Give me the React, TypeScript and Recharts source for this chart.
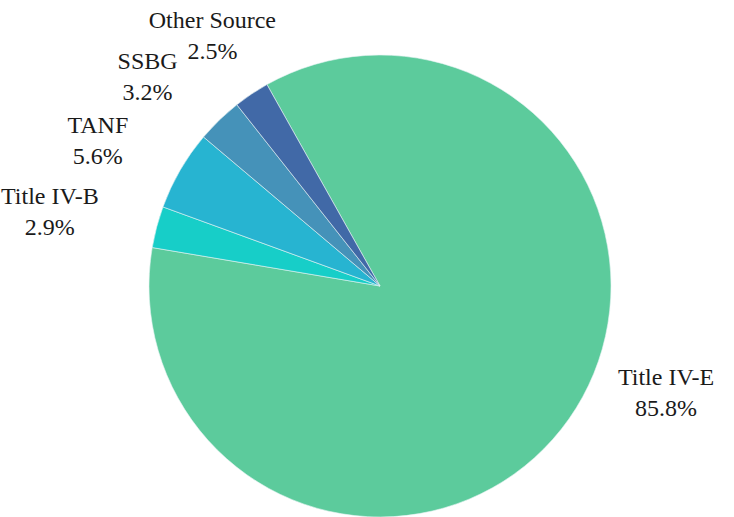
import React from 'react';
import { PieChart, Pie, Cell } from 'recharts';

const SOURCES = ['Title IV-E', 'Title IV-B', 'TANF', 'SSBG', 'Other Source'];
const SHARES = [85.8, 2.9, 5.6, 3.2, 2.5];
const COLORS = ['#5ccb9c', '#17cec8', '#27b4d1', '#4592b9', '#4169a7'];

const data = SOURCES.map((name, i) => ({ name, value: SHARES[i] }));

const WIDTH = 734;
const HEIGHT = 517;
const FONT = 24;
const FONT_FAMILY = "'Liberation Serif', serif";
const LINE = 31;
const RAD = Math.PI / 180;

let ctx: CanvasRenderingContext2D | null = null;
function textWidth(s: string) {
  if (!ctx) ctx = document.createElement('canvas').getContext('2d');
  if (!ctx) return s.length * FONT * 0.5;
  ctx.font = `${FONT}px ${FONT_FAMILY}`;
  return ctx.measureText(s).width;
}

function renderLabel(props: any) {
  const { cx, cy, midAngle, outerRadius, name, value } = props;
  const dx = Math.cos(midAngle * RAD);
  const dy = -Math.sin(midAngle * RAD);
  const text = `${Number(value).toFixed(1)}%`;
  const w = Math.max(textWidth(name), textWidth(text));
  const h = LINE * 2;
  let x: number;
  let y: number;
  if (Math.abs(dx) < 0.6) {
    // near the top: box centre on the ray, box just touching the gap circle
    const r = outerRadius + 33;
    const t = Math.min(w / 2 / Math.abs(dx), h / 2 / Math.abs(dy));
    x = cx + dx * (r + t);
    y = cy + dy * (r + t);
  } else {
    // sides: inner edge of the box touches the anchor point
    const r = outerRadius + 60;
    x = cx + dx * r + Math.sign(dx) * w / 2;
    y = cy + dy * r;
  }
  // keep labels clear of the bottom edge
  y = Math.min(y, HEIGHT - 125);
  return (
    <text
      x={x}
      y={y}
      textAnchor="middle"
      fill="#1a1a1a"
      fontFamily={FONT_FAMILY}
      fontSize={FONT}
    >
      <tspan x={x} y={y - LINE / 2 + 8}>{name}</tspan>
      <tspan x={x} y={y + LINE / 2 + 8}>{text}</tspan>
    </text>
  );
}

export default function App() {
  return (
    <div style={{ position: 'absolute', left: 0, top: 0, width: WIDTH, height: HEIGHT, background: '#fff' }}>
      <PieChart width={WIDTH} height={HEIGHT} margin={{ top: 0, right: 0, bottom: 0, left: 0 }}>
        <Pie
          data={data}
          dataKey="value"
          nameKey="name"
          cx={380}
          cy={286}
          outerRadius={231}
          startAngle={119.3}
          endAngle={-240.7}
          stroke="#e6f3f3"
          strokeWidth={0.6}
          label={renderLabel}
          labelLine={false}
          isAnimationActive={false}
        >
          {data.map((d, i) => (
            <Cell key={d.name} fill={COLORS[i]} />
          ))}
        </Pie>
      </PieChart>
    </div>
  );
}
